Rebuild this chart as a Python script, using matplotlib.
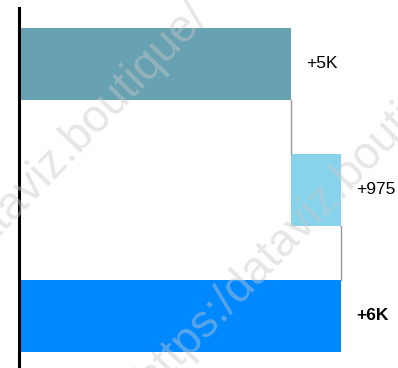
import matplotlib; matplotlib.use('Agg'); import matplotlib.pyplot as plt
plt.rcParams.update({'font.family': ['Liberation Sans', 'DejaVu Sans']})

# waterfall data
steps = ['Start', 'Change', 'Total']
deltas = [5280, 975]
colors = ['#67a1b2', '#87d3ec', '#0088ff']

def fmt(v):
    return '+%dK' % round(v / 1000) if abs(v) >= 1000 else '+%d' % v

total = sum(deltas)
lefts = [0]
for d in deltas[:-1]:
    lefts.append(lefts[-1] + d)
widths = deltas + [total]
lefts = lefts + [0]
ys = list(range(len(steps)))
H = 0.571

W, Hpx = 398, 368
fig = plt.figure(figsize=(W / 100, Hpx / 100), dpi=100)
ax = fig.add_axes([18.5 / W, 0, 379.5 / W, 360 / Hpx])
ax.barh(ys, widths, left=lefts, height=H, color=colors, edgecolor='none')
ax.set_xlim(0, 7353); ax.set_ylim(2.413, -0.444)

# connectors
for i in range(len(steps) - 1):
    x = lefts[i] + widths[i]
    ax.plot([x, x], [ys[i] + H / 2, ys[i + 1] - H / 2], color='#999999', lw=1, zorder=1)

# labels
for i, (l, w) in enumerate(zip(lefts, widths)):
    last = i == len(steps) - 1
    ax.annotate(fmt(w), (l + w, ys[i]), xytext=(15, 0), textcoords='offset pixels',
                ha='left', va='center', fontsize=12.5, color='black',
                fontweight='bold' if last else 'normal')

for s in ['top', 'right', 'bottom']:
    ax.spines[s].set_visible(False)
ax.spines['left'].set_linewidth(2.2); ax.spines['left'].set_color('black')
ax.set_xticks([]); ax.set_yticks([])

# watermark
for x0, y0 in [(-118, 356), (153, 393)]:
    fig.text(x0 / W, 1 - y0 / Hpx, 'https:/dataviz.boutique/', rotation=46, rotation_mode='anchor',
             ha='left', va='baseline', fontsize=33, color='#c8c8c8', alpha=0.45, zorder=10)

fig.savefig('out.png', dpi=100, facecolor='white')
